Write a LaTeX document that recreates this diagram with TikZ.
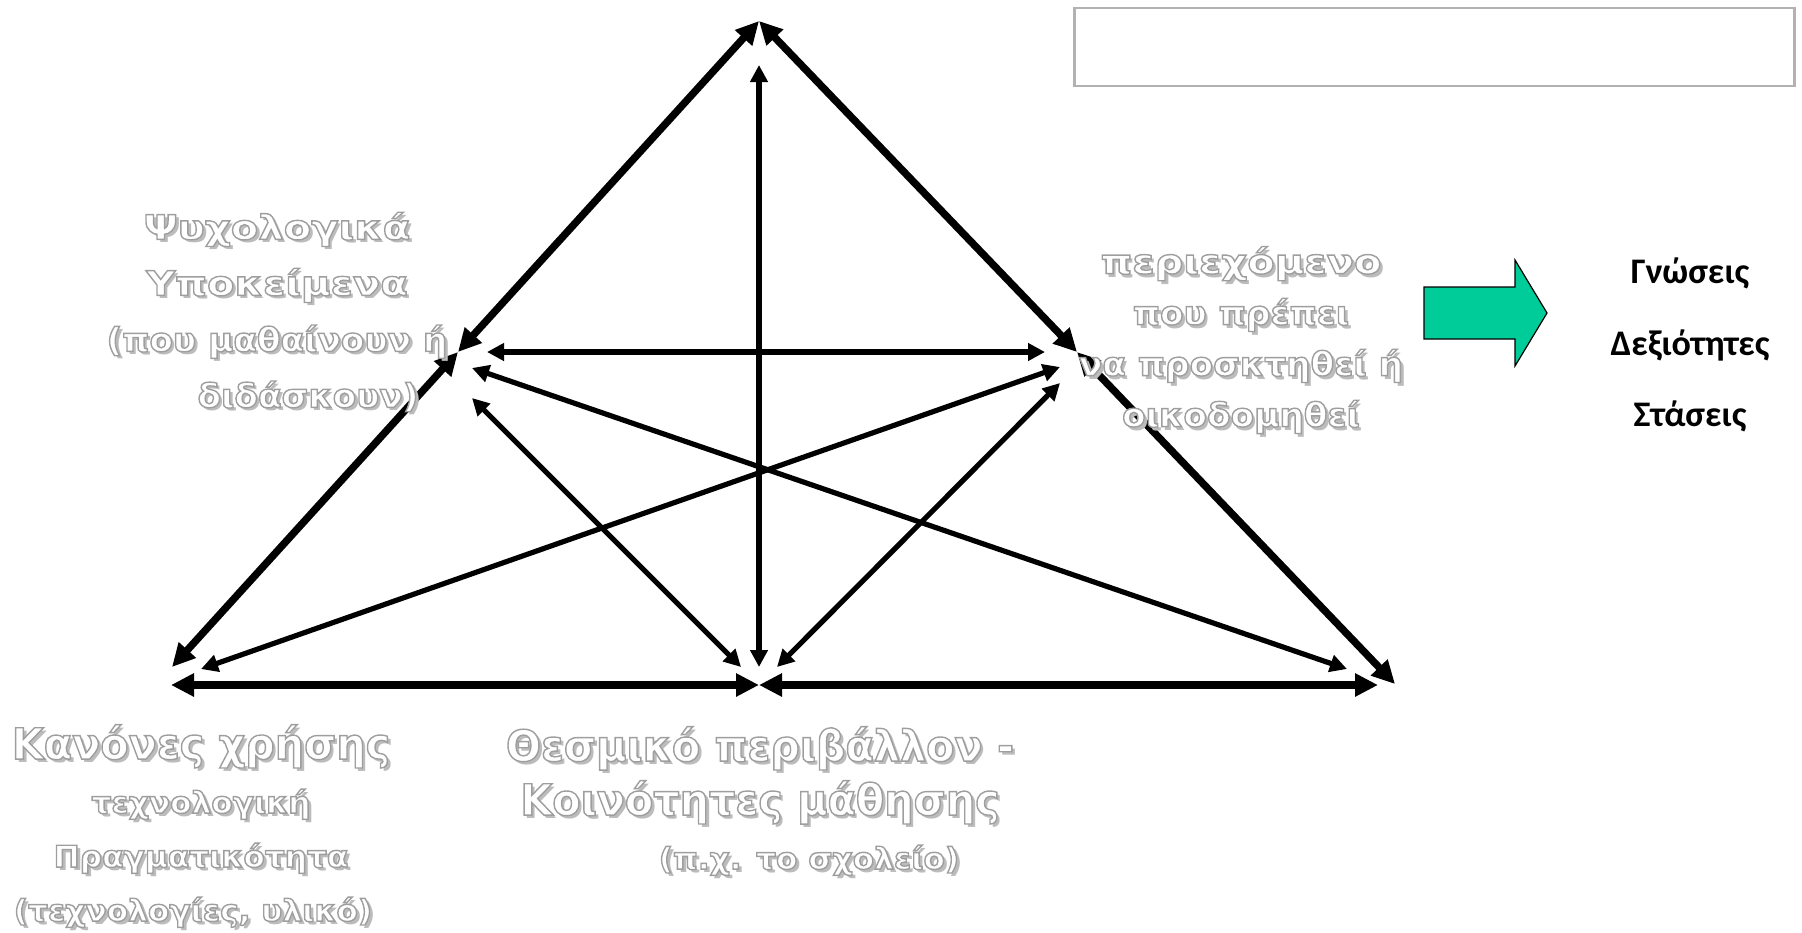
\documentclass[tikz,border=0pt]{standalone}
\usepackage{fontspec}
\usepackage{xcolor}
\usepackage{tikz}
\usetikzlibrary{arrows.meta}

\setmainfont{DejaVu Sans}
\newfontfamily\topfont[FakeStretch=1.18]{DejaVu Sans Bold}
\newfontfamily\bigfont[FakeStretch=0.96]{DejaVu Sans Bold}
\newfontfamily\detailfont[FakeStretch=1.04]{DejaVu Sans Bold}
\newfontfamily\resultfont{Carlito}

\definecolor{blockgreen}{RGB}{0,204,153}
\definecolor{shadegray}{RGB}{188,188,188}

% white letters with a grey rim (fill, then stroke)
\newcommand{\rimon}{\special{pdf:literal direct 2 Tr 1 g 0.62 G 0.7 w}}
\newcommand{\rimoff}{\special{pdf:literal direct 0 Tr 0 g 0 G}}
\newcommand{\toptxt}{\topfont\fontsize{17pt}{28pt}\selectfont}
\newcommand{\topdetail}{\detailfont\fontsize{16.5pt}{28pt}\selectfont}
\newcommand{\bigtxt}{\bigfont\fontsize{21.5pt}{27pt}\selectfont}
\newcommand{\smalltxt}{\detailfont\fontsize{15pt}{27pt}\selectfont}

\begin{document}
\begin{tikzpicture}[
    x=0.5pt, y=-0.5pt,
    outer/.style={
        {Triangle[length=11.5pt,width=11pt]}-{Triangle[length=11.5pt,width=11pt]},
        line width=3.7pt
    },
    inner/.style={
        {Triangle[length=8.5pt,width=8.5pt]}-{Triangle[length=8.5pt,width=8.5pt]},
        line width=2.6pt
    },
    lbl/.style={
        align=center,
        inner sep=0pt,
        font=\toptxt,
        execute at begin node=\rimon,
        execute at end node=\rimoff
    },
    lblshade/.style={
        align=center,
        inner sep=0pt,
        text=shadegray,
        font=\toptxt,
        xshift=1.7pt, yshift=-1.7pt
    },
    result/.style={
        font=\resultfont\bfseries\fontsize{18pt}{22pt}\selectfont,
        anchor=base,
        inner sep=0pt
    },
    infobox/.style={
        draw=black!30,
        line width=1.2pt,
        minimum width=360pt,
        minimum height=39pt,
        inner sep=0pt
    }
]
\useasboundingbox (0,0) rectangle (1802,932);

% corners and arrow ends
\coordinate (apex) at (759,21);
\coordinate (psy) at (458,352);
\coordinate (cont) at (1077,352);
\coordinate (kanSide) at (172,667);
\coordinate (kanBase) at (171,685);
\coordinate (thesm) at (759,685);
\coordinate (rightBase) at (1378,685);
\coordinate (rightSide) at (1395,684);

\coordinate (vTop) at (759,65);
\coordinate (vBot) at (759,667);
\coordinate (hL) at (487,352);
\coordinate (hR) at (1045,352);
\coordinate (psyCross) at (472,368);
\coordinate (rightCross) at (1347,669);
\coordinate (contCross) at (1060,367);
\coordinate (kanCross) at (201,669);
\coordinate (psyLow) at (472,398);
\coordinate (thesmL) at (741,667);
\coordinate (contLow) at (1060,383);
\coordinate (thesmR) at (777,667);

% outer triangle
\draw[outer] (apex) -- (psy);
\draw[outer] (psy) -- (kanSide);
\draw[outer] (apex) -- (cont);
\draw[outer] (cont) -- (rightSide);
\draw[outer] (kanBase) -- (thesm);
\draw[outer] (thesm) -- (rightBase);

% inner links
\draw[inner] (vTop) -- (vBot);
\draw[inner] (hL) -- (hR);
\draw[inner] (psyCross) -- (rightCross);
\draw[inner] (contCross) -- (kanCross);
\draw[inner] (psyLow) -- (thesmL);
\draw[inner] (contLow) -- (thesmR);

% labels
\node[lblshade] (subjectsShade) at (277,312) {Ψυχολογικά\\Υποκείμενα\\{\topdetail (που μαθαίνουν ή}\\\hspace*{31pt}{\topdetail διδάσκουν)}};
\node[lbl] (subjects) at (277,312) {Ψυχολογικά\\Υποκείμενα\\{\topdetail (που μαθαίνουν ή}\\\hspace*{31pt}{\topdetail διδάσκουν)}};

\node[lblshade, font=\topfont\fontsize{17pt}{25.5pt}\selectfont] (contentShade) at (1241,340) {περιεχόμενο\\{\topdetail που πρέπει}\\{\topdetail να προσκτηθεί ή}\\{\topdetail οικοδομηθεί}};
\node[lbl, font=\topfont\fontsize{17pt}{25.5pt}\selectfont] (content) at (1241,340) {περιεχόμενο\\{\topdetail που πρέπει}\\{\topdetail να προσκτηθεί ή}\\{\topdetail οικοδομηθεί}};

\node[lblshade, font=\smalltxt] (rulesShade) at (201,826) {{\bigtxt Κανόνες χρήσης}\\τεχνολογική\\Πραγματικότητα\\(τεχνολογίες,\ υλικό)\hspace*{8pt}};
\node[lbl, font=\smalltxt] (rules) at (201,826) {{\bigtxt Κανόνες χρήσης}\\τεχνολογική\\Πραγματικότητα\\(τεχνολογίες,\ υλικό)\hspace*{8pt}};

\node[lblshade, font=\smalltxt] (institutionShade) at (760,801) {{\bigtxt Θεσμικό περιβάλλον -}\\{\bigtxt Κοινότητες μάθησης}\\\hspace*{49pt}(π.χ. το σχολείο)};
\node[lbl, font=\smalltxt] (institution) at (760,801) {{\bigtxt Θεσμικό περιβάλλον -}\\{\bigtxt Κοινότητες μάθησης}\\\hspace*{49pt}(π.χ. το σχολείο)};

% outcome side
\node[infobox] (infobox) at (1434.5,47) {};
\draw[fill=blockgreen, line width=0.6pt] (1424,287) -- (1515,287) -- (1515,260) -- (1547,313)
    -- (1515,366) -- (1515,339) -- (1424,339) -- cycle;
\node[result] (gnoseis) at (1690,283) {Γνώσεις};
\node[result] (dexiotites) at (1690,355) {Δεξιότητες};
\node[result] (staseis) at (1690,426) {Στάσεις};
\end{tikzpicture}
\end{document}
